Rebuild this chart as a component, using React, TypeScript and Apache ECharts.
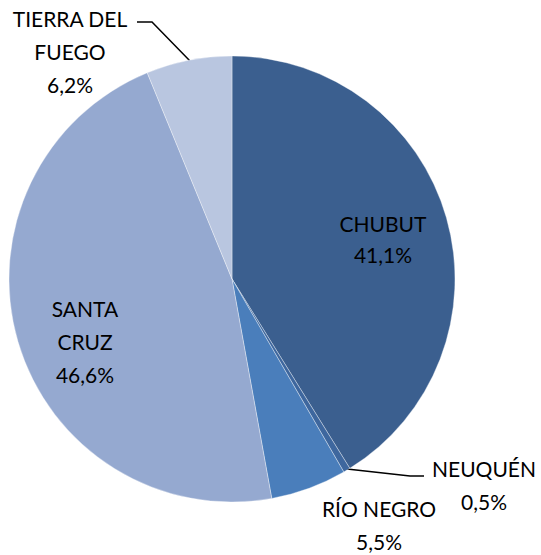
import React, { useEffect, useRef } from "react";
import * as echarts from "echarts";

const categories = ["CHUBUT", "NEUQUÉN", "RÍO NEGRO", "SANTA CRUZ", "TIERRA DEL FUEGO"];
const labelTexts = ["CHUBUT", "NEUQUÉN", "RÍO NEGRO", "SANTA\nCRUZ", "TIERRA DEL\nFUEGO"];
const values = [41.1, 0.5, 5.5, 46.6, 6.2];
const colors = ["#3B5F8F", "#3E679E", "#4A7EBB", "#95A9D0", "#B9C6E0"];

// label placements (block centers) and leader lines
const labelPos: [number, number][] = [
  [383, 239],
  [484, 485],
  [379, 525],
  [85, 341],
  [70, 51],
];
const leaderLines: ([number, number][] | null)[] = [
  null,
  [[347, 469], [410, 476], [424, 476]],
  null,
  null,
  [[190, 61], [152, 22], [137, 22]],
];

export default function App() {
  const ref = useRef<HTMLDivElement>(null);
  useEffect(() => {
    if (!ref.current) return;
    const chart = echarts.init(ref.current, undefined, { renderer: "svg" });
    chart.setOption({
      animation: false,
      backgroundColor: "#ffffff",
      series: [
        {
          type: "pie",
          center: [232, 279],
          radius: 223,
          startAngle: 90,
          clockwise: true,
          avoidLabelOverlap: false,
          itemStyle: { borderColor: "rgba(255,255,255,0.45)", borderWidth: 0.8 },
          label: {
            show: true,
            position: "outside",
            fontFamily: "Lato",
            fontSize: 21,
            lineHeight: 33,
            color: "#000000",
            align: "center",
            formatter: (p: any) =>
              labelTexts[p.dataIndex] + "\n" + p.value.toFixed(1).replace(".", ",") + "%",
          },
          labelLine: { show: true, lineStyle: { color: "#000000", width: 1.5 } },
          labelLayout: (params: any) => {
            const i = params.dataIndex;
            const res: any = {
              x: labelPos[i][0],
              y: labelPos[i][1],
              align: "center",
              verticalAlign: "middle",
            };
            if (leaderLines[i]) res.labelLinePoints = leaderLines[i];
            return res;
          },
          data: categories.map((c, i) => ({
            name: c,
            value: values[i],
            itemStyle: { color: colors[i] },
            label: i === 0 ? { lineHeight: 31 } : undefined,
            labelLine: { show: !!leaderLines[i] },
          })),
        },
      ],
    });
    return () => chart.dispose();
  }, []);
  return (
    <div
      ref={ref}
      style={{ position: "fixed", left: 0, top: 0, width: 541, height: 555 }}
    />
  );
}
